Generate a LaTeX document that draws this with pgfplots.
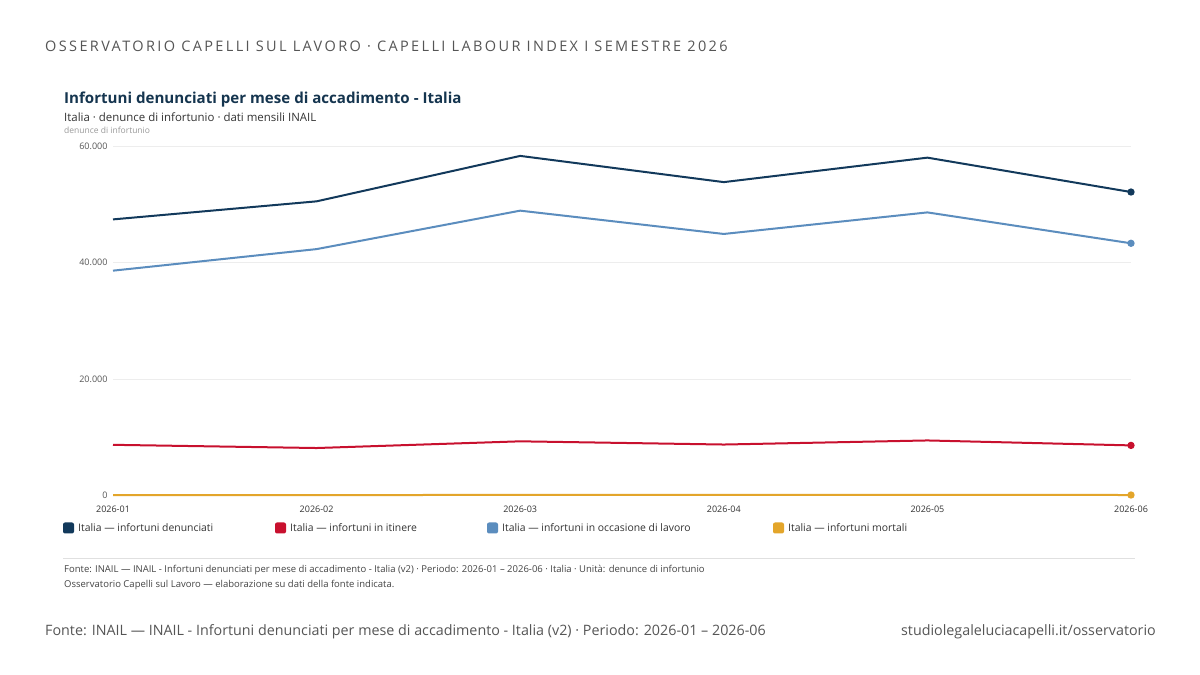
\documentclass[border=0pt]{standalone}
\usepackage{pgfplots}
\pgfplotsset{compat=1.18}
\usepackage{pgfplotstable}
\usepackage{fontspec}
\setmainfont{Open Sans}
\definecolor{navy}{HTML}{12395B}
\definecolor{crim}{HTML}{C8102E}
\definecolor{steel}{HTML}{5B8DBE}
\definecolor{gold}{HTML}{E3A52A}
\definecolor{hdr}{HTML}{555555}
\definecolor{ttl}{HTML}{15354F}
\definecolor{sub}{HTML}{333333}
\definecolor{lite}{HTML}{999999}
\definecolor{foot}{HTML}{444444}

\pgfplotstableread{
m den iti occ mor
1 47400 8700 38600 80
2 50500 8150 42300 70
3 58300 9300 48900 100
4 53800 8750 44900 90
5 58000 9450 48600 95
6 52100 8600 43300 85
}\data

\begin{document}
\begin{tikzpicture}[x=1pt,y=1pt]
\fill[white] (0,0) rectangle (1200,675);
% header
\node[anchor=base west, inner sep=0, text=hdr, font=\fontsize{14.5}{16}\selectfont\addfontfeatures{LetterSpace=16.4}] at (45,675-51.5) {OSSERVATORIO CAPELLI SUL LAVORO · CAPELLI LABOUR INDEX I SEMESTRE 2026};
% title
\node[anchor=base west, inner sep=0, text=ttl, font=\fontsize{15.1}{18}\selectfont\bfseries] at (64,675-103.5) {Infortuni denunciati per mese di accadimento - Italia};
\node[anchor=base west, inner sep=0, text=sub, font=\fontsize{11.45}{13}\selectfont] at (64,675-122) {Italia · denunce di infortunio · dati mensili INAIL};
\node[anchor=base west, inner sep=0, text=lite, font=\fontsize{8.5}{10}\selectfont] at (64,675-134) {denunce di infortunio};

\begin{axis}[
  at={(113pt,179.5pt)}, anchor=south west,
  width=1018pt, height=349.5pt, scale only axis,
  xmin=1, xmax=6, ymin=0, ymax=60000,
  axis line style={draw=none},
  major tick length=0pt,
  ymajorgrids, grid style={draw=black!7, line width=0.8pt},
  xtick={1,2,3,4,5,6},
  xticklabels={2026-01,2026-02,2026-03,2026-04,2026-05,2026-06},
  ytick={0,20000,40000,60000},
  scaled y ticks=false,
  /pgf/number format/1000 sep={.},
  /pgf/number format/assume math mode=true,
  y tick label style={font=\fontsize{9}{11}\selectfont, text=hdr, xshift=-2pt},
  x tick label style={font=\fontsize{9}{11}\selectfont, text=sub, yshift=-7pt},
  clip=false,
  every axis plot/.append style={line width=2pt, mark=*, mark indices={6}, mark size=2.6pt},
]
\addplot[color=gold, mark options={fill=gold, draw=gold}] table[x=m, y=mor] {\data};
\addplot[color=crim, mark options={fill=crim, draw=crim}] table[x=m, y=iti] {\data};
\addplot[color=steel, mark options={fill=steel, draw=steel}] table[x=m, y=occ] {\data};
\addplot[color=navy, mark options={fill=navy, draw=navy}] table[x=m, y=den] {\data};
\end{axis}

% legend
\foreach \xx/\cc/\tt in {63/navy/{Italia — infortuni denunciati}, 275/crim/{Italia — infortuni in itinere}, 487/steel/{Italia — infortuni in occasione di lavoro}, 773/gold/{Italia — infortuni mortali}}{
  \fill[\cc, rounded corners=2pt] (\xx,675-533.5) rectangle ++(11,11);
  \node[anchor=base west, inner sep=0, text=sub, font=\fontsize{10.4}{12}\selectfont] at (\xx+15,675-532) {\tt};
}
% separator
\draw[black!12, line width=0.8pt] (63,675-558) -- (1135,675-558);
\node[anchor=base west, inner sep=0, text=foot, font=\fontsize{9.5}{11}\selectfont] at (64,675-572.5) {Fonte: INAIL — INAIL - Infortuni denunciati per mese di accadimento - Italia (v2) · Periodo: 2026-01 – 2026-06 · Italia · Unità: denunce di infortunio};
\node[anchor=base west, inner sep=0, text=foot, font=\fontsize{9.5}{11}\selectfont] at (64,675-587.5) {Osservatorio Capelli sul Lavoro — elaborazione su dati della fonte indicata.};
% bottom
\node[anchor=base west, inner sep=0, text=hdr, font=\fontsize{14.3}{17}\selectfont] at (45,675-636) {Fonte: INAIL — INAIL - Infortuni denunciati per mese di accadimento - Italia (v2) · Periodo: 2026-01 – 2026-06};
\node[anchor=base east, inner sep=0, text=hdr, font=\fontsize{14.3}{17}\selectfont] at (1156,675-636) {studiolegaleluciacapelli.it/osservatorio};
\end{tikzpicture}
\end{document}
